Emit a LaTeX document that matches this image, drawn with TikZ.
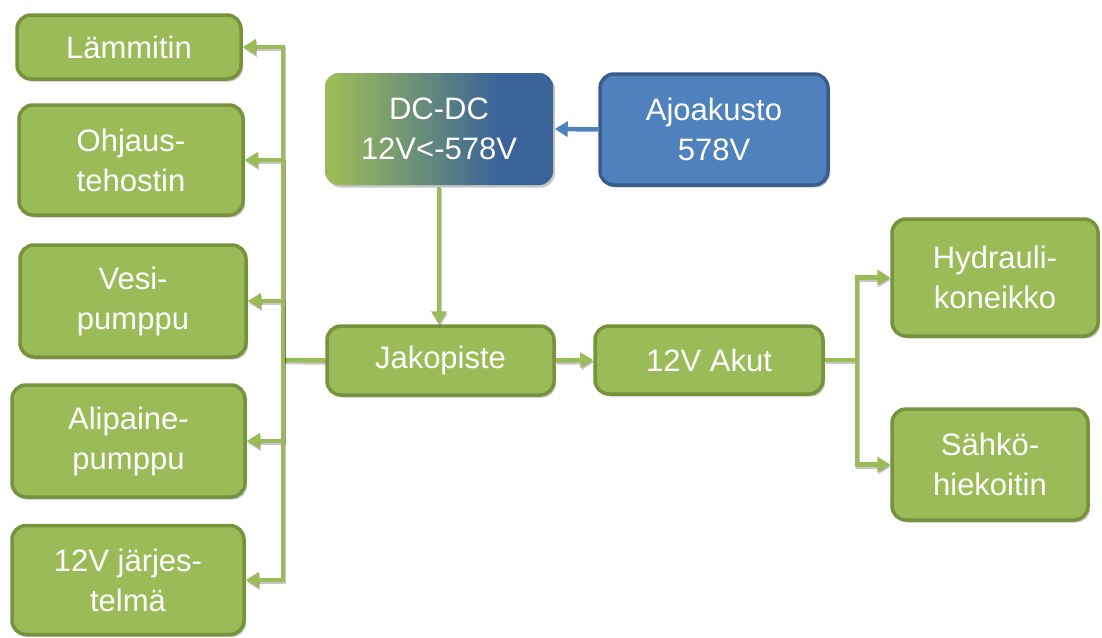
\documentclass[tikz,border=0pt]{standalone}
\usepackage{fontspec}
\setmainfont{Liberation Sans}
\usetikzlibrary{arrows.meta,shadows}
\definecolor{leaf}{HTML}{9BBB59}
\definecolor{leafdark}{HTML}{76923C}
\definecolor{sky}{HTML}{4F81BD}
\definecolor{skydark}{HTML}{385D8A}
\definecolor{deepblue}{HTML}{3A6399}
\pgfdeclarehorizontalshading{dcshade}{100bp}{color(0bp)=(leaf); color(27bp)=(leaf); color(63bp)=(deepblue); color(100bp)=(deepblue)}
\tikzset{
  box/.style={rectangle, rounded corners=14pt, line width=3.5pt, draw=leafdark, fill=leaf,
    text=white, align=center, inner sep=0pt,
    font=\fontsize{31}{40}\selectfont,
    drop shadow={shadow xshift=2pt, shadow yshift=-2.5pt, opacity=0.22, fill=black}},
  bluebox/.style={box, draw=skydark, fill=sky},
  dcbox/.style={box, draw=none, shading=dcshade},
  conn/.style={draw=leaf, line width=4.5pt,
    preaction={draw=black, opacity=0.22, line width=4.5pt, transform canvas={xshift=1pt, yshift=-2pt}}},
  arr/.style={conn, -{Triangle[length=13pt, width=15pt]}},
  barr/.style={draw=sky, line width=4.5pt, -{Triangle[length=13pt, width=15pt]}},
}
\begin{document}
\begin{tikzpicture}[x=1pt, y=-1pt]
\useasboundingbox (0,0) rectangle (1102,637);

% left column of loads
\node[box, minimum width=224pt, minimum height=64pt]  (lam) at (129,47)    {Lämmitin};
\node[box, minimum width=224pt, minimum height=110pt] (ohj) at (131,160)   {Ohjaus-\\tehostin};
\node[box, minimum width=226pt, minimum height=112pt] (ves) at (133,301)   {Vesi-\\pumppu};
\node[box, minimum width=233pt, minimum height=112pt] (ali) at (128.5,441) {Alipaine-\\pumppu};
\node[box, minimum width=232pt, minimum height=109pt] (jar) at (128,580)   {12V järjes-\\telmä};

% supply chain
\node[dcbox, minimum width=228pt, minimum height=112pt] (dc) at (439,129) {DC-DC\\12V<-578V};
\node[bluebox, minimum width=228pt, minimum height=111pt] (ajo) at (714,129.5) {Ajoakusto\\578V};
\node[box, minimum width=227pt, minimum height=69pt] (jako) at (440.5,360.5) {Jakopiste};
\node[box, minimum width=228pt, minimum height=68pt] (akut) at (709,360) {12V Akut};

% right column of loads
\node[box, minimum width=206pt, minimum height=117pt] (hyd) at (995,277.5) {Hydrauli-\\koneikko};
\node[box, minimum width=196pt, minimum height=111pt] (sah) at (990,464.5) {Sähkö-\\hiekoitin};

% bus junctions
\coordinate (busL) at (283,360);
\coordinate (busR) at (857,360);

% connectors
\draw[barr] (ajo.west) -- (dc.east);
\draw[arr] (dc.south) -- (dc.south |- jako.north);
\draw[arr] (jako.east) -- (akut.west);

\draw[conn] (jako.west) -- (busL);
\draw[arr] (busL) |- (lam.east);
\draw[arr] (busL) |- (ohj.east);
\draw[arr] (busL) |- (ves.east);
\draw[arr] (busL) |- (ali.east);
\draw[arr] (busL) |- (jar.east);

\draw[conn] (akut.east) -- (busR);
\draw[arr] (busR) |- (hyd.west);
\draw[arr] (busR) |- (sah.west);
\end{tikzpicture}
\end{document}
